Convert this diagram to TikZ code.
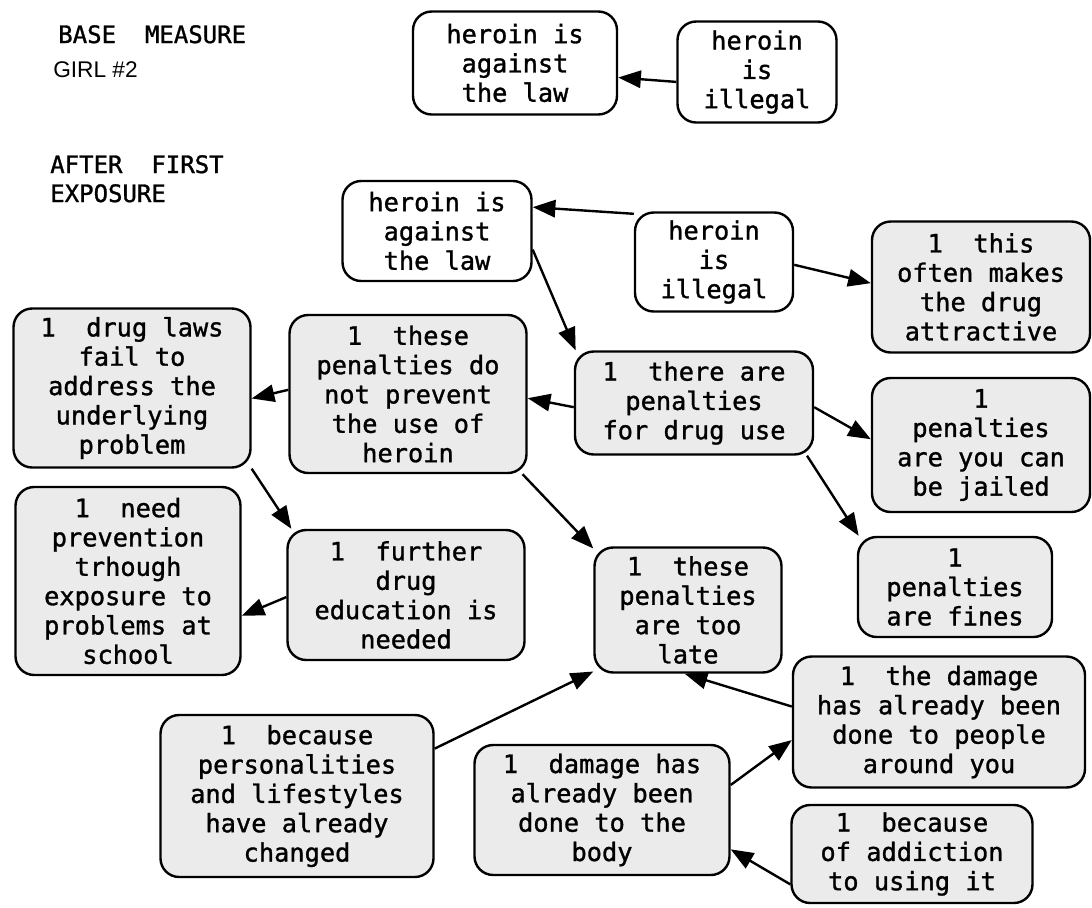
\documentclass[tikz,border=0pt]{standalone}
\usepackage{fontspec}
\setmonofont{DejaVu Sans Mono}[AutoFakeBold=1.2]
\newfontfamily\girlfont{Liberation Sans}
\usetikzlibrary{arrows.meta}
\tikzset{
	idea/.style={draw, line width=1.8pt, rounded corners=14pt, align=center, inner sep=2pt, font=\ttfamily\bfseries\fontsize{19}{22}\selectfont},
	reason/.style={idea, fill=black!8},
	sz/.style 2 args={minimum width=#1*0.75pt, minimum height=#2*0.75pt},
	head/.style={anchor=base west, inner sep=0pt, font=\ttfamily\bfseries\fontsize{18}{22}\selectfont},
	link/.style={line width=1.8pt, -{Triangle[length=17pt,width=13pt]}},
}

\begin{document}
\begin{tikzpicture}[x=0.75pt,y=0.75pt,yscale=-1,xscale=1]
		\useasboundingbox (0,0) rectangle (1092,907);
		% titles
		\node [head] (base) at (58,43) {BASE~ MEASURE};
		\node [anchor=base west, inner sep=0pt, font=\girlfont\fontsize{17}{20}\selectfont] (girl) at (53,77) {GIRL \#2};
		\node [head] (after) at (50,173) {AFTER~ FIRST};
		\node [head] (expo) at (50,202) {EXPOSURE};
		% base measure
		\node [idea, sz={204}{103}] (a1) at (515,63) {heroin is\\against\\the law};
		\node [idea, sz={159}{101}] (a2) at (757,72) {heroin\\is\\illegal};
		\draw [link] (a2.187) -- (a1.-8);
		% after first exposure
		\node [idea, sz={189}{100}] (b1) at (437,231) {heroin is\\against\\the law};
		\node [idea, sz={158}{99}] (b2) at (714,262) {heroin\\is\\illegal};
		\node [reason, sz={218}{131}] (b3) at (981,287) {1~ this\\often makes\\the drug\\attractive};
		\node [reason, sz={238}{103}] (b4) at (694,403) {1~ there are\\penalties\\for drug use};
		\node [reason, sz={237}{158}] (b5) at (408,394) {1~ these\\penalties do\\not prevent\\the use of\\heroin};
		\node [reason, sz={237}{159}] (b6) at (132,388) {1~ drug laws\\fail to\\address the\\underlying\\problem};
		\node [reason, sz={218}{134}] (b7) at (981,445) {1\\penalties\\are you can\\be jailed};
		\node [reason, sz={194}{100}] (b8) at (955,587) {1\\penalties\\are fines};
		\node [reason, sz={225}{188}] (b9) at (128,581) {1~ need\\prevention\\trhough\\exposure to\\problems at\\school};
		\node [reason, sz={237}{130}] (b10) at (406,595) {1~ further\\drug\\education is\\needed};
		\node [reason, sz={187}{125}] (b11) at (688,610) {1~ these\\penalties\\are too\\late};
		\node [reason, sz={292}{131}] (b12) at (939,722) {1~ the damage\\has already been\\done to people\\around you};
		\node [reason, sz={273}{162}] (b13) at (297,796) {1~ because\\personalities\\and lifestyles\\have already\\changed};
		\node [reason, sz={255}{130}] (b14) at (602,810) {1~ damage has\\already been\\done to the\\body};
		\node [reason, sz={241}{98}] (b15) at (912,854) {1~ because\\of addiction\\to using it};
		\draw [link] (b2.149) -- (b1.14);
		\draw [link] (b2.-2) -- (b3.178);
		\draw [link] (b1.-11) -- (b4.156);
		\draw [link] (b4.182) -- (b5.-2);
		\draw [link] (b4.-2) -- (b7.177);
		\draw [link] (b4.-25) -- (b8.152);
		\draw [link] (b5.178) -- (b6.-5);
		\draw [link] (b5.-35) -- (b11.147);
		\draw [link] (b6.-34) -- (b10.150);
		\draw [link] (b10.181) -- (b9.-17);
		\draw [link] (b13.19) -- (b11.213);
		\draw [link] (b12.174) -- (b11.267);
		\draw [link] (b14.11) -- (b12.187);
		\draw [link] (b15.194) -- (b14.-17);
\end{tikzpicture}
\end{document}
